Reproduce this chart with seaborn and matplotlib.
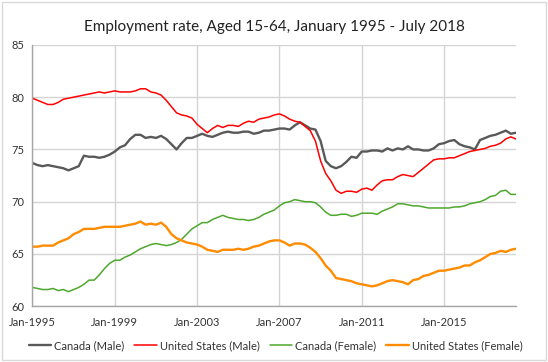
import pandas as pd
import seaborn as sns
import matplotlib.pyplot as plt
from matplotlib.patches import Rectangle

# quarterly readings, Jan 1995 - Jul 2018
canada_male = [73.7, 73.5, 73.4, 73.5, 73.4, 73.3, 73.2, 73.0, 73.2, 73.4,
               74.4, 74.3, 74.3, 74.2, 74.3, 74.5, 74.8, 75.2, 75.4, 76.0,
               76.4, 76.4, 76.1, 76.2, 76.1, 76.3, 76.0, 75.5, 75.0, 75.6,
               76.1, 76.1, 76.3, 76.5, 76.3, 76.2, 76.4, 76.6, 76.7, 76.6,
               76.6, 76.7, 76.7, 76.5, 76.6, 76.8, 76.8, 76.9, 77.0, 77.0,
               76.9, 77.3, 77.6, 77.3, 77.0, 76.9, 75.8, 73.9, 73.4, 73.2,
               73.4, 73.8, 74.3, 74.2, 74.8, 74.8, 74.9, 74.9, 74.8, 75.1,
               74.9, 75.1, 75.0, 75.3, 75.0, 75.0, 74.9, 74.9, 75.1, 75.5,
               75.6, 75.8, 75.9, 75.5, 75.3, 75.2, 75.0, 75.9, 76.1, 76.3,
               76.4, 76.6, 76.8, 76.5, 76.6]
us_male = [79.9, 79.7, 79.5, 79.3, 79.3, 79.5, 79.8, 79.9, 80.0, 80.1,
           80.2, 80.3, 80.4, 80.5, 80.4, 80.5, 80.6, 80.5, 80.5, 80.5,
           80.6, 80.8, 80.8, 80.5, 80.4, 80.2, 79.7, 79.1, 78.5, 78.3,
           78.2, 78.0, 77.4, 77.0, 76.6, 77.0, 77.3, 77.1, 77.3, 77.3,
           77.2, 77.5, 77.7, 77.6, 77.9, 78.0, 78.1, 78.3, 78.4, 78.2,
           77.9, 77.7, 77.6, 77.2, 76.8, 75.8, 73.9, 72.7, 72.0, 71.1,
           70.8, 71.0, 71.0, 70.9, 71.2, 71.3, 71.1, 71.6, 72.0, 72.1,
           72.1, 72.4, 72.6, 72.5, 72.4, 72.8, 73.2, 73.6, 74.0, 74.1,
           74.1, 74.2, 74.2, 74.4, 74.6, 74.8, 74.9, 75.0, 75.1, 75.3,
           75.4, 75.6, 76.0, 76.2, 76.0]
canada_female = [61.8, 61.7, 61.6, 61.6, 61.7, 61.5, 61.6, 61.4, 61.6, 61.8,
                 62.1, 62.5, 62.5, 63.0, 63.6, 64.1, 64.4, 64.4, 64.7, 64.9,
                 65.2, 65.5, 65.7, 65.9, 66.0, 65.9, 65.8, 65.9, 66.1, 66.4,
                 66.9, 67.4, 67.7, 68.0, 68.0, 68.3, 68.5, 68.7, 68.5, 68.4,
                 68.3, 68.3, 68.2, 68.3, 68.5, 68.8, 69.0, 69.2, 69.6, 69.9,
                 70.0, 70.2, 70.1, 70.0, 70.0, 69.9, 69.5, 69.0, 68.7, 68.7,
                 68.8, 68.8, 68.6, 68.7, 68.9, 68.9, 68.9, 68.8, 69.1, 69.3,
                 69.5, 69.8, 69.8, 69.7, 69.6, 69.6, 69.5, 69.4, 69.4, 69.4,
                 69.4, 69.4, 69.5, 69.5, 69.6, 69.8, 69.9, 70.0, 70.2, 70.5,
                 70.6, 71.0, 71.1, 70.7, 70.7]
us_female = [65.7, 65.7, 65.8, 65.8, 65.8, 66.1, 66.3, 66.5, 66.9, 67.1,
             67.4, 67.4, 67.4, 67.5, 67.6, 67.6, 67.6, 67.6, 67.7, 67.8,
             67.9, 68.1, 67.8, 67.9, 67.8, 68.0, 67.6, 66.9, 66.5, 66.3,
             66.1, 66.0, 65.9, 65.7, 65.4, 65.3, 65.2, 65.4, 65.4, 65.4,
             65.5, 65.4, 65.5, 65.7, 65.8, 66.0, 66.2, 66.3, 66.3, 66.1,
             65.8, 66.0, 66.0, 65.9, 65.6, 65.2, 64.6, 63.9, 63.4, 62.7,
             62.6, 62.5, 62.4, 62.2, 62.1, 62.0, 61.9, 62.0, 62.2, 62.4,
             62.5, 62.4, 62.3, 62.1, 62.5, 62.6, 62.9, 63.0, 63.2, 63.4,
             63.4, 63.5, 63.6, 63.7, 63.9, 63.9, 64.2, 64.4, 64.7, 65.0,
             65.1, 65.3, 65.2, 65.4, 65.5]

series_names = ['Canada (Male)', 'United States (Male)', 'Canada (Female)', 'United States (Female)']
colors = ['#595959', '#ff0000', '#4ea72e', '#ff8c00']
tick_years = [1995, 1999, 2003, 2007, 2011, 2015]

dates = pd.date_range('1995-01-01', periods=len(canada_male), freq='3MS')
df = pd.DataFrame({'date': dates, 'Canada (Male)': canada_male,
                   'United States (Male)': us_male,
                   'Canada (Female)': canada_female,
                   'United States (Female)': us_female})
long = df.melt(id_vars='date', var_name='series', value_name='rate')

sns.set_theme(style='white')
plt.rcParams['font.family'] = ['Lato', 'DejaVu Sans']

widths = [1.7, 1.1, 1.1, 1.7]

fig = plt.figure(figsize=(5.48, 3.62), dpi=100)
ax = fig.add_axes([0.0593, 0.154, 0.8823, 0.722])
sns.lineplot(data=long, x='date', y='rate', hue='series', hue_order=series_names,
             palette=colors, ax=ax, legend=False)
for line, lw in zip(ax.get_lines(), widths):
    line.set_linewidth(lw)

ax.set_xlim(dates[0], dates[-1])
ax.set_ylim(60, 85)
ax.set_yticks([60, 65, 70, 75, 80, 85])
ticks = [pd.Timestamp(f'{y}-01-01') for y in tick_years]
ax.set_xticks(ticks)
ax.set_xticklabels([f'Jan-{y}' for y in tick_years])
ax.grid(True, color='#d4d4d4', linewidth=1.0)
ax.set_axisbelow(True)
ax.tick_params(axis='both', length=0, labelsize=8, colors='#333333')
ax.tick_params(axis='x', pad=8)
ax.tick_params(axis='y', pad=6)
for s in ['top', 'right']:
    ax.spines[s].set_visible(False)
for s in ['left', 'bottom']:
    ax.spines[s].set_color('#a6a6a6')
    ax.spines[s].set_linewidth(1.0)
ax.set_xlabel('')
ax.set_ylabel('')

fig.suptitle('Employment rate, Aged 15-64, January 1995 - July 2018',
             x=0.5, y=0.945, fontsize=11, color='#222222')

handles = [plt.Line2D([], [], color=c, lw=lw) for c, lw in zip(colors, widths)]
fig.legend(handles, series_names, loc='center', bbox_to_anchor=(0.503, 0.045), ncol=4,
           frameon=False, fontsize=8, handlelength=2.0, handletextpad=0.3,
           columnspacing=0.9, labelcolor='#333333', borderpad=0.2)

fig.patches.append(Rectangle((0.004, 0.006), 0.992, 0.988, transform=fig.transFigure,
                             fill=False, edgecolor='#d9d9d9', linewidth=1.0))

fig.savefig('out.png', dpi=100)
